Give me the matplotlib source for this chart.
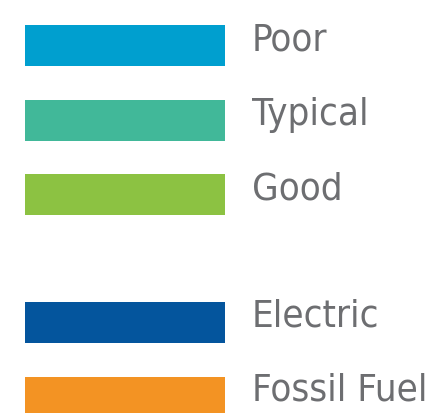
import matplotlib
matplotlib.use("Agg")
import matplotlib.pyplot as plt

# Legend groups
quality_labels = ["Poor", "Typical", "Good"]
quality_colors = ["#009FCF", "#41B899", "#8CC242"]
fuel_labels = ["Electric", "Fossil Fuel"]
fuel_colors = ["#04559D", "#F39323"]

W, H, DPI = 428, 414, 100
fig = plt.figure(figsize=(W / DPI, H / DPI), dpi=DPI)
ax = fig.add_axes([0, 0, 1, 1])
ax.set_axis_off()

row_px = 74.5
first_px = 46.5
group_gap = 0.72  # extra slots between groups

labels = quality_labels + fuel_labels
colors = quality_colors + fuel_colors
slots = [i for i in range(len(quality_labels))] + \
        [len(quality_labels) + group_gap + i for i in range(len(fuel_labels))]
text_off = [4.5] * len(quality_labels) + [2.5] * len(fuel_labels)

ax.set_xlim(0, W)
ax.set_ylim((H - first_px) / row_px, -first_px / row_px)

bar_h = 41 / row_px
ax.barh(slots, [200] * len(slots), left=25, height=bar_h, color=colors, linewidth=0)

for s, lab, off in zip(slots, labels, text_off):
    ax.annotate(lab, xy=(252, s), xycoords="data",
                xytext=(0, -off * 72 / DPI), textcoords="offset points",
                va="baseline", ha="left", fontsize=27.5,
                family="DejaVu Sans", fontstretch="condensed", color="#6D6E71")

fig.savefig("out.png", dpi=DPI)
